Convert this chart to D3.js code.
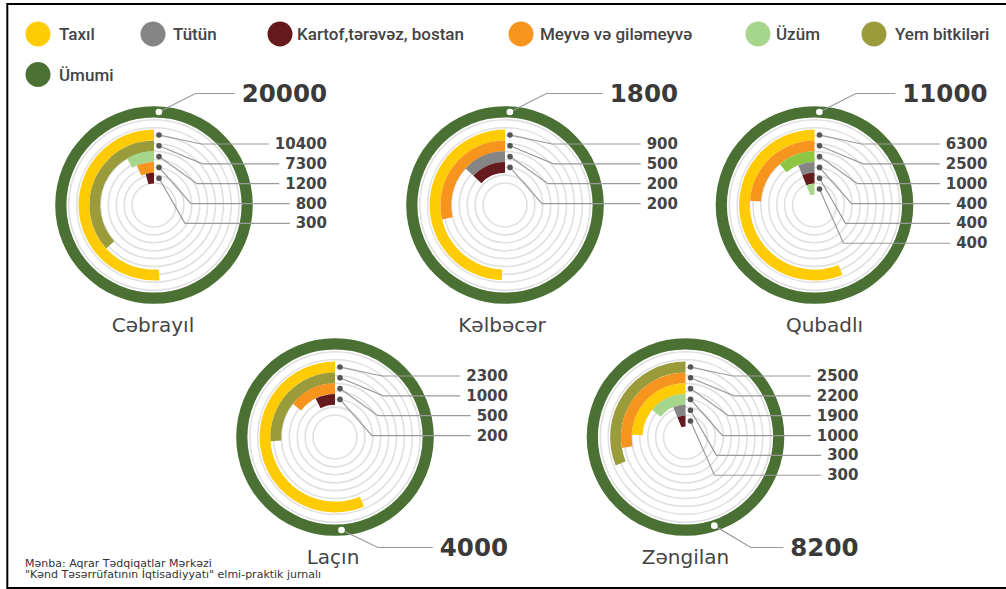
<!DOCTYPE html>
<html><head><meta charset="utf-8">
<script src="https://cdn.jsdelivr.net/npm/d3@7/dist/d3.min.js"></script>
<style>body{margin:0;background:#fff}svg{display:block}</style>
</head><body>
<svg id="chart" width="1006" height="589"></svg>
<script>
// ---------- DATA ----------
const legendNames = ["Taxıl", "Tütün", "Kartof,tərəvəz, bostan", "Meyvə və giləmeyvə", "Üzüm", "Yem bitkiləri", "Ümumi"];
const regionNames = ["Cəbrayıl", "Kəlbəcər", "Qubadlı", "Laçın", "Zəngilan"];
const regionTotals = [20000, 1800, 11000, 4000, 8200];

const cabrayilKeys = ["Taxıl", "Yem bitkiləri", "Üzüm", "Meyvə və giləmeyvə", "Kartof,tərəvəz, bostan"];
const cabrayilValues = [10400, 7300, 1200, 800, 300];
const kalbacarKeys = ["Taxıl", "Meyvə və giləmeyvə", "Tütün", "Kartof,tərəvəz, bostan"];
const kalbacarValues = [900, 500, 200, 200];
const qubadliKeys = ["Taxıl", "Meyvə və giləmeyvə", "Digər", "Tütün", "Kartof,tərəvəz, bostan", "Üzüm"];
const qubadliValues = [6300, 2500, 1000, 400, 400, 400];
const lacinKeys = ["Taxıl", "Yem bitkiləri", "Meyvə və giləmeyvə", "Kartof,tərəvəz, bostan"];
const lacinValues = [2300, 1000, 500, 200];
const zangilanKeys = ["Yem bitkiləri", "Meyvə və giləmeyvə", "Taxıl", "Üzüm", "Tütün", "Kartof,tərəvəz, bostan"];
const zangilanValues = [2500, 2200, 1900, 1000, 300, 300];

const sourceLines = ["Mənba: Aqrar Tədqiqatlar Mərkəzi", "\"Kənd Təsərrüfatının İqtisadiyyatı\" elmi-praktik jurnalı"];

// ---------- STYLE / LAYOUT ----------
const colorScale = d3.scaleOrdinal()
  .domain(["Taxıl", "Tütün", "Kartof,tərəvəz, bostan", "Meyvə və giləmeyvə", "Üzüm", "Yem bitkiləri", "Ümumi", "Digər"])
  .range(["#FFCB05", "#858585", "#651A1D", "#F7941E", "#A6D58C", "#9A9C3B", "#4A7133", "#8DC641"]);

const regionSeries = [
  [cabrayilKeys, cabrayilValues],
  [kalbacarKeys, kalbacarValues],
  [qubadliKeys, qubadliValues],
  [lacinKeys, lacinValues],
  [zangilanKeys, zangilanValues]
];
const centers = [[154, 205], [505, 205], [814.5, 205], [335, 437], [685.5, 437]];
const nameDx = [-1, -3, 10, -2, 0];
const totalDotDeg = [3, 3, 3, 176, 162];
const elbowDx = [42, 43.5, 38, 32, 26, 24];

const legendPos = [[38, 34], [153, 34], [280, 34], [521, 34], [758, 34], [874, 34], [38, 74.5]];
const legendTextDx = [21, 20, 17, 19, 18, 21, 21];

const svg = d3.select("#chart");
const numFont = "'DejaVu Sans', Verdana, sans-serif";

// frame
svg.append("rect").attr("x", 7.3).attr("y", 4).attr("width", 1010).attr("height", 584)
  .attr("fill", "none").attr("stroke", "#000").attr("stroke-width", 2);

// legend
const lg = svg.append("g");
legendNames.forEach((n, i) => {
  lg.append("circle").attr("cx", legendPos[i][0]).attr("cy", legendPos[i][1]).attr("r", 12.5)
    .attr("fill", colorScale(n));
  lg.append("text").attr("x", legendPos[i][0] + legendTextDx[i]).attr("y", legendPos[i][1])
    .attr("dominant-baseline", "central")
    .attr("font-family", "Roboto, sans-serif").attr("font-weight", 500).attr("font-size", 17)
    .attr("fill", "#444").text(n);
});

// radial track band scale
const maxTracks = 6;
const track = d3.scaleBand().domain(d3.range(maxTracks)).range([86.2, 21.4]).paddingInner(0);
const gridRadii = d3.range(9).map(k => 22 + k * 7.9);
const ringOuter = 98.8, ringInner = 87.6;
const ringMid = (ringOuter + ringInner) / 2;

regionNames.forEach((name, ri) => {
  const [cx, cy] = centers[ri];
  const total = regionTotals[ri];
  const [keys, values] = regionSeries[ri];
  const g = svg.append("g").attr("transform", `translate(${cx},${cy})`);

  const angle = d3.scaleLinear().domain([0, total]).range([10 * Math.PI / 180, 345 * Math.PI / 180]);

  // grid circles
  g.selectAll("circle.grid").data(gridRadii).enter().append("circle")
    .attr("class", "grid").attr("r", d => d).attr("fill", "none")
    .attr("stroke", "#e0e0e0").attr("stroke-width", 1.6);

  // outer total ring
  g.append("path").attr("d", d3.arc()({innerRadius: ringInner, outerRadius: ringOuter, startAngle: 0, endAngle: 2 * Math.PI}))
    .attr("fill", colorScale("Ümumi"));

  // bars
  const arc = d3.arc();
  values.forEach((v, i) => {
    const outer = track(i);
    const inner = outer - track.bandwidth();
    g.append("path")
      .attr("d", arc({innerRadius: inner, outerRadius: outer, startAngle: 0, endAngle: -angle(v)}))
      .attr("fill", colorScale(keys[i]));
  });

  // value labels with leader lines
  const labelRight = 173;
  values.forEach((v, i) => {
    const mid = track(i) - track.bandwidth() / 2;
    const dx = 5, dy = -mid;
    const ly = -61 + 19.85 * i;
    const t = g.append("text").attr("x", labelRight).attr("y", ly)
      .attr("text-anchor", "end").attr("dominant-baseline", "central")
      .attr("font-family", numFont).attr("font-weight", "bold").attr("font-size", 15)
      .attr("fill", "#444").text(v);
    const tw = t.node().getComputedTextLength();
    const ex = dx + elbowDx[i];
    g.insert("polyline", "text")
      .attr("points", `${dx},${dy} ${ex},${ly} ${labelRight - tw - 6},${ly}`)
      .attr("fill", "none").attr("stroke", "#9a9a9a").attr("stroke-width", 1.2);
    g.append("circle").attr("cx", dx).attr("cy", dy).attr("r", 2.8).attr("fill", "#555");
  });

  // total label
  const a = totalDotDeg[ri] * Math.PI / 180;
  const tdx = ringMid * Math.sin(a), tdy = -ringMid * Math.cos(a);
  const above = tdy < 0;
  const tly = above ? -111.5 : 110.5;
  const tt = g.append("text").attr("x", labelRight).attr("y", tly)
    .attr("text-anchor", "end").attr("dominant-baseline", "central")
    .attr("font-family", numFont).attr("font-weight", "bold").attr("font-size", 24.5)
    .attr("fill", "#3a3a3a").text(total);
  const ttw = tt.node().getComputedTextLength();
  g.append("polyline")
    .attr("points", `${tdx},${tdy} ${tdx + 36.5},${tly} ${labelRight - ttw - 7},${tly}`)
    .attr("fill", "none").attr("stroke", "#9a9a9a").attr("stroke-width", 1.2);
  g.append("circle").attr("cx", tdx).attr("cy", tdy).attr("r", 3.3).attr("fill", "#fff");

  // region name
  g.append("text").attr("x", nameDx[ri]).attr("y", 126.5).attr("text-anchor", "middle")
    .attr("font-family", numFont).attr("font-size", 20).attr("fill", "#444").text(name);
});

// source
sourceLines.forEach((s, i) => {
  svg.append("text").attr("x", 25).attr("y", 566.5 + i * 11)
    .attr("font-family", numFont).attr("font-size", 11).attr("fill", "#333").text(s);
});
</script>
</body></html>
